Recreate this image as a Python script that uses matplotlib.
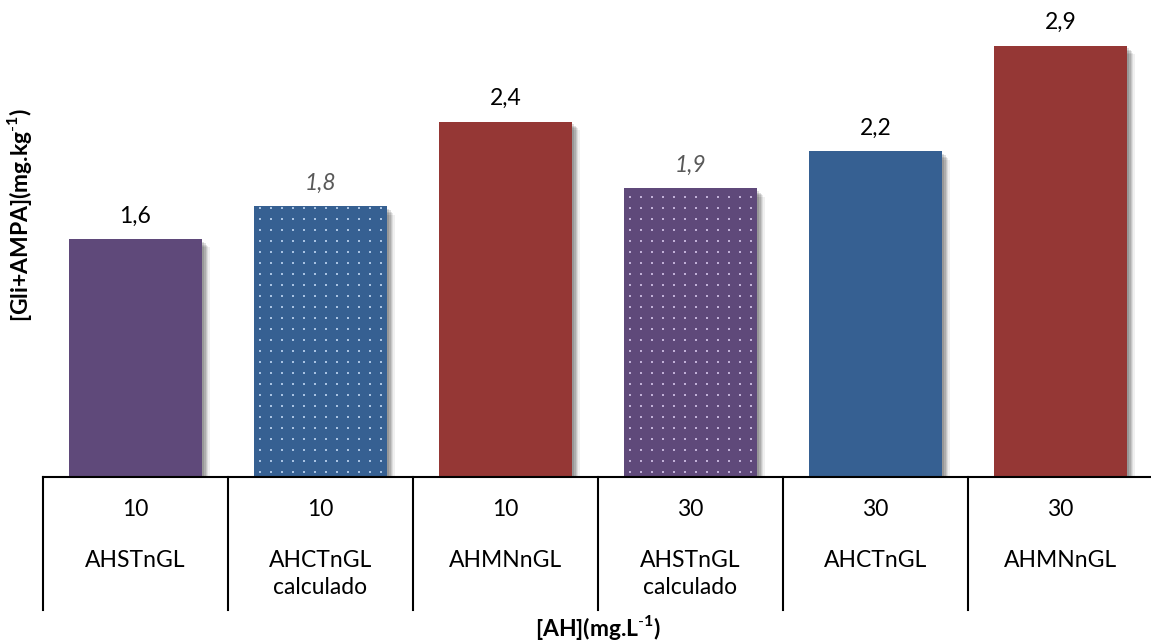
import matplotlib.pyplot as plt
import matplotlib.patheffects as pe
import numpy as np

plt.rcParams['font.family'] = ['Lato', 'DejaVu Sans']
plt.rcParams['mathtext.fontset'] = 'custom'
plt.rcParams['mathtext.rm'] = 'Lato'
plt.rcParams['mathtext.bf'] = 'Lato:bold'

# dados
concentracoes = ['10', '10', '10', '30', '30', '30']
tratamentos = ['AHSTnGL', 'AHCTnGL\ncalculado', 'AHMNnGL',
               'AHSTnGL\ncalculado', 'AHCTnGL', 'AHMNnGL']
valores = [1.60, 1.82, 2.39, 1.94, 2.19, 2.90]
calculado = [False, True, False, True, False, False]

roxo, azul, vermelho = '#5F497A', '#366092', '#953735'
cores = [roxo, azul, vermelho, roxo, azul, vermelho]
pontos = {roxo: '#C2B1D8', azul: '#A9C3E3'}

fs = 16.5
fig = plt.figure(figsize=(11.51, 6.41), dpi=100)
ax = fig.add_axes([43 / 1151, 164 / 641, 1110 / 1151, 477 / 641])

x = np.arange(len(valores))
largura = 0.714

ax.set_xlim(-0.5, len(valores) - 0.5)
ax.set_ylim(0, 3.207)

# sombra suave à direita/abaixo das barras
sombra = [pe.SimplePatchShadow(offset=(d, -d), shadow_rgbFace='k', alpha=a)
          for d, a in [(6, 0.06), (5, 0.08), (4, 0.1), (3, 0.12), (2, 0.12)]]
barras = ax.bar(x, valores, width=largura, color=cores, linewidth=0, zorder=2)
for b in barras:
    b.set_path_effects(sombra + [pe.Normal()])

# padrão pontilhado nos valores calculados (grade de pontos recortada na barra)
dx, dy = 11 / 185, 11 / 148.75
for i, b in enumerate(barras):
    if not calculado[i]:
        continue
    gx = np.arange(x[i] - largura / 2 + dx / 2, x[i] + largura / 2, dx)
    gy = np.arange(dy / 2, valores[i], dy)
    px, py = np.meshgrid(gx, gy)
    sc = ax.scatter(px.ravel(), py.ravel(), s=2.2, marker='s', linewidths=0,
                    color=pontos[cores[i]], zorder=3)
    sc.set_clip_path(b)

for i, v in enumerate(valores):
    txt = f'{v:.1f}'.replace('.', ',')
    if calculado[i]:
        ax.annotate(txt, (x[i], v), xytext=(0, 9), textcoords='offset points',
                    ha='center', va='bottom', fontsize=fs, style='italic',
                    color='#595959')
    else:
        ax.annotate(txt, (x[i], v), xytext=(0, 9), textcoords='offset points',
                    ha='center', va='bottom', fontsize=fs, color='black')

ax.set_yticks([])
ax.set_xticks([])
for s in ['top', 'right', 'left']:
    ax.spines[s].set_visible(False)
ax.spines['bottom'].set_linewidth(1.5)

# tabela de categorias abaixo do eixo
trans = ax.get_xaxis_transform()
for xb in np.arange(len(valores)) - 0.5:
    ax.plot([xb, xb], [0, -133 / 477], color='black', lw=1.5,
            transform=trans, clip_on=False)
for i in range(len(valores)):
    ax.text(x[i], -32 / 477, concentracoes[i], transform=trans,
            ha='center', va='center', fontsize=fs)
    ax.text(x[i], -73 / 477, tratamentos[i], transform=trans,
            ha='center', va='top', fontsize=fs, linespacing=1.35)

fig.text(0.5 * (43 + 1153) / 1151, 1 - 628 / 641, r'[AH](mg.L$^{\mathbf{\text{-}1}}$)',
         ha='center', va='center', fontsize=fs, fontweight='bold')
fig.text(20 / 1151, 1 - 215 / 641, r'[Gli+AMPA](mg.kg$^{\mathbf{\text{-}1}}$)',
         ha='center', va='center', rotation=90, fontsize=fs, fontweight='bold')

fig.savefig('out.png', dpi=100)
